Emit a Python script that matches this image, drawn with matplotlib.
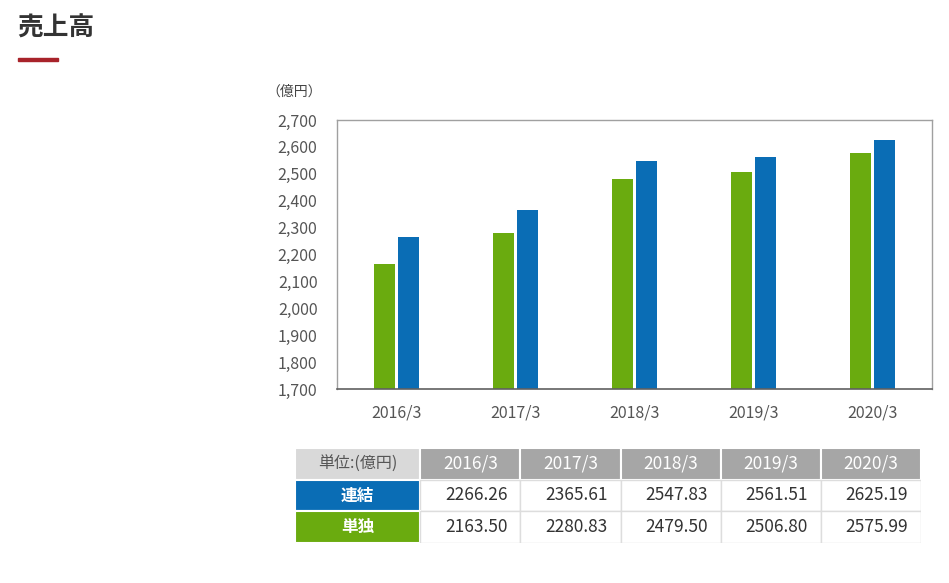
import matplotlib
matplotlib.use("Agg")
import matplotlib.pyplot as plt
from matplotlib.patches import Rectangle

plt.rcParams["font.family"] = ["Noto Sans CJK JP", "DejaVu Sans"]

years = ["2016/3", "2017/3", "2018/3", "2019/3", "2020/3"]
consolidated = [2266.26, 2365.61, 2547.83, 2561.51, 2625.19]  # 連結
standalone = [2163.50, 2280.83, 2479.50, 2506.80, 2575.99]    # 単独
yticks = list(range(1700, 2701, 100))

GREEN = "#6aab0f"
BLUE = "#0a6db5"
W, H = 949, 583

fig = plt.figure(figsize=(W / 100, H / 100), dpi=100)


def px(l, t, r, b):
    return [l / W, 1 - b / H, (r - l) / W, (b - t) / H]


# title + red underline
fig.text(17 / W, 1 - 28 / H, "売上高", fontsize=18.5, fontweight="bold",
         color="#333333", va="center", ha="left")
fig.patches.append(Rectangle((18 / W, 1 - 61 / H), 40 / W, 3 / H,
                             transform=fig.transFigure, color="#a8232a"))

# bar chart
ax = fig.add_axes(px(337, 120, 932, 389))
x = list(range(len(years)))
bw = 0.18
off = 0.101
ax.bar([i - off for i in x], [v - 1700 for v in standalone], bw, bottom=1700, color=GREEN)
ax.bar([i + off for i in x], [v - 1700 for v in consolidated], bw, bottom=1700, color=BLUE)
ax.set_xlim(-0.5, len(years) - 0.5)
ax.set_ylim(1700, 2700)
ax.set_yticks(yticks)
ax.set_yticklabels([f"{t:,}" for t in yticks])
ax.set_xticks(x)
ax.set_xticklabels(years)
ax.tick_params(length=0, labelsize=11.5, labelcolor="#555555")
ax.tick_params(axis="y", pad=14)
ax.tick_params(axis="x", pad=11)
for s in ["top", "right", "left"]:
    ax.spines[s].set_color("#a0a0a0")
    ax.spines[s].set_linewidth(1)
ax.spines["bottom"].set_color("#606060")
ax.spines["bottom"].set_linewidth(1.2)
fig.text(294 / W, 1 - 92 / H, "（億円）", fontsize=10, color="#444444",
         ha="center", va="center")

# data table
tx = fig.add_axes(px(295, 448, 921, 543))
tx.set_xlim(0, 6.25)
tx.set_ylim(3, 0)
tx.axis("off")
edges = [0, 1.25] + [2.25 + i for i in range(len(years))]
line = "#dddddd"

tx.add_patch(Rectangle((0, 0), 1.25, 1, facecolor="#d9d9d9", edgecolor="white", lw=1.5))
tx.text(0.625, 0.5, "単位:(億円)", ha="center", va="center", fontsize=11.5, color="#555555")
for j, yr in enumerate(years):
    l = edges[j + 1]
    tx.add_patch(Rectangle((l, 0), 1, 1, facecolor="#a6a6a6", edgecolor="white", lw=1.5))
    tx.text(l + 0.5, 0.5, yr, ha="center", va="center", fontsize=12.5, color="white")

rows = [("連結", BLUE, consolidated), ("単独", GREEN, standalone)]
for r, (name, col, vals) in enumerate(rows, start=1):
    tx.add_patch(Rectangle((0, r), 1.25, 1, facecolor=col, edgecolor="white", lw=1.5))
    tx.text(0.625, r + 0.5, name, ha="center", va="center", fontsize=12,
            color="white", fontweight="bold")
    for j, v in enumerate(vals):
        l = edges[j + 1]
        tx.add_patch(Rectangle((l, r), 1, 1, facecolor="white", edgecolor=line, lw=1))
        tx.text(l + 0.87, r + 0.5, f"{v:.2f}", ha="right", va="center",
                fontsize=12.5, color="#333333")

fig.savefig("out.png", dpi=100)
